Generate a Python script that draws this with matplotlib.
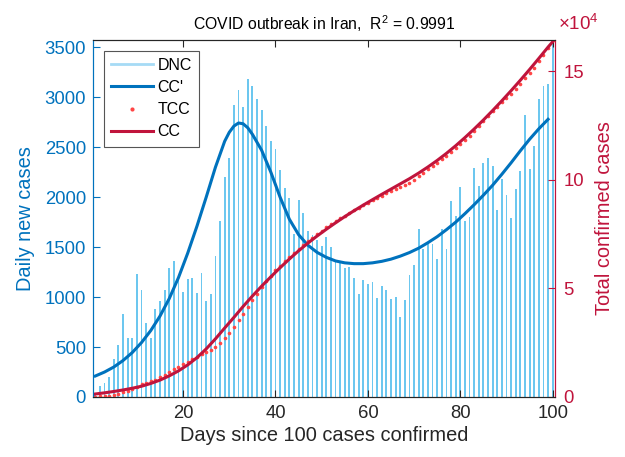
import numpy as np
import matplotlib
matplotlib.use('Agg')
import matplotlib.pyplot as plt
from matplotlib.lines import Line2D
from matplotlib.ticker import FuncFormatter

plt.rcParams['font.family'] = ['Liberation Sans', 'DejaVu Sans']
plt.rcParams['mathtext.fontset'] = 'custom'
plt.rcParams['mathtext.rm'] = 'Liberation Sans'

# daily new cases (DNC), day 1 = first day with >100 confirmed cases
days = np.arange(1, 101)
dnc = [44, 106, 143, 205, 385, 523, 835, 586, 591, 1234,
       1076, 743, 595, 881, 958, 1075, 1289, 1365, 1209, 1053,
       1178, 1192, 1046, 1237, 966, 1028, 1411, 1762, 2206, 2389,
       2926, 3076, 2901, 3186, 3110, 2988, 2875, 2715, 2560, 2483,
       2274, 2089, 1997, 1634, 1972, 1837, 1657, 1617, 1574, 1512,
       1606, 1499, 1374, 1343, 1294, 1297, 1194, 1030, 1168, 1134,
       1153, 991, 1112, 1073, 983, 1006, 802, 976, 1223, 1323,
       1680, 1485, 1556, 1529, 1383, 1683, 1481, 1958, 1808, 2102,
       1757, 1806, 2294, 2111, 2346, 2392, 2311, 1869, 2180, 2023,
       1787, 2080, 2258, 2819, 2282, 2516, 2979, 3117, 3134, 3574]

# total confirmed cases (TCC)
tcc = [139, 245, 388, 593, 978, 1501, 2336, 2922, 3513, 4747,
       5823, 6566, 7161, 8042, 9000, 10075, 11364, 12729, 13938, 14991,
       16169, 17361, 18407, 19644, 20610, 21638, 23049, 24811, 27017, 29406,
       32332, 35408, 38309, 41495, 44605, 47593, 50468, 53183, 55743, 58226,
       60500, 62589, 64586, 66220, 68192, 70029, 71686, 73303, 74877, 76389,
       77995, 79494, 80868, 82211, 83505, 84802, 85996, 87026, 88194, 89328,
       90481, 91472, 92584, 93657, 94640, 95646, 96448, 97424, 98647, 99970,
       101650, 103135, 104691, 106220, 107603, 109286, 110767, 112725, 114533, 116635,
       118392, 120198, 122492, 124603, 126949, 129341, 131652, 133521, 135701, 137724,
       139511, 141591, 143849, 146668, 148950, 151466, 154445, 157562, 160696, 164270]

# fitted curve CC' (daily rate)
ccd_days = [1, 3, 5, 7, 9, 11, 13, 15, 17, 19, 21, 23, 25, 27, 29, 30, 31, 32,
            33, 34, 35, 37, 39, 41, 43, 45, 47, 49, 51, 53, 55, 57, 59, 61, 63,
            65, 67, 69, 71, 73, 75, 77, 79, 81, 83, 85, 87, 89, 91, 93, 95, 97, 99]
ccd_vals = [210, 250, 300, 365, 445, 545, 665, 810, 985, 1195, 1440, 1710,
            2000, 2300, 2560, 2650, 2712, 2743, 2735, 2695, 2630, 2470, 2250,
            2000, 1780, 1625, 1520, 1448, 1398, 1362, 1343, 1335, 1335, 1343,
            1358, 1380, 1410, 1446, 1490, 1545, 1605, 1675, 1750, 1835, 1925,
            2020, 2120, 2230, 2345, 2465, 2580, 2685, 2780]

# fitted curve CC (cumulative)
cc_days = [1, 3, 5, 7, 9, 11, 13, 15, 17, 19, 21, 23, 25, 27, 29, 31, 33, 35,
           37, 39, 41, 43, 45, 47, 49, 51, 53, 55, 57, 59, 61, 63, 65, 67, 69,
           71, 73, 75, 77, 79, 81, 83, 85, 87, 89, 91, 93, 95, 97, 99, 100]
cc_vals = [1380, 1920, 2545, 3230, 4030, 4950, 6230, 7770, 9720, 12010,
           14775, 18105, 22125, 26745, 31740, 36630, 41670, 46450, 51000,
           55310, 59485, 63475, 67255, 70775, 74065, 77175, 80145, 83005,
           85700, 88300, 90800, 93250, 95650, 98050, 100450, 103050, 105850,
           108850, 112100, 115600, 119350, 123300, 127450, 131800, 136300,
           140950, 145750, 150700, 155800, 161000, 163450]

c_bar = '#6CC7EF'
c_blue = '#0072BD'
c_red = '#C0143C'
c_dot = '#FF4545'

fig = plt.figure(figsize=(6.25, 4.57), dpi=100)
ax = fig.add_axes([0.1488, 0.1313, 0.7392, 0.7812])
ax.bar(days, dnc, width=0.4, color=c_bar, linewidth=0)
ax.plot(ccd_days, ccd_vals, color=c_blue, lw=2.2)
ax.set_xlim(0.5, 100.5)
ax.set_ylim(0, max(dnc))
ax.set_yticks([0, 500, 1000, 1500, 2000, 2500, 3000, 3500])
ax.set_xticks([20, 40, 60, 80, 100])
ax.set_ylabel('Daily new cases', color=c_blue, fontsize=14.4, labelpad=7)
ax.set_xlabel('Days since 100 cases confirmed', color='#262626', fontsize=14.4, labelpad=3)
ax.tick_params(axis='y', colors=c_blue, direction='in', labelsize=13.3, length=5, pad=5)
ax.tick_params(axis='x', colors='#262626', direction='in', labelsize=13.3, length=5,
               top=True, pad=6)

ax2 = ax.twinx()
ax2.plot(days, tcc, 'o', color=c_dot, ms=2.6, mew=0)
ax2.plot(cc_days, cc_vals, color=c_red, lw=2.2)
ax2.set_ylim(0, max(tcc))
ax2.set_yticks([0, 50000, 100000, 150000])
ax2.yaxis.set_major_formatter(FuncFormatter(lambda v, p: '%d' % round(v / 1e4)))
ax2.set_ylabel('Total confirmed cases', color=c_red, fontsize=14.4, labelpad=8)
ax2.tick_params(axis='y', colors=c_red, direction='in', labelsize=13.3, length=5, pad=6)

for a in (ax, ax2):
    a.spines['left'].set_color(c_blue)
    a.spines['right'].set_color(c_red)
    a.spines['top'].set_color('#262626')
    a.spines['bottom'].set_color('#262626')

fig.text(0.893, 0.935, '×10$^{4}$', color=c_red, fontsize=13.5)
ax.set_title('COVID outbreak in Iran,  R$^{2}$ = 0.9991', fontsize=11.3, pad=7)

handles = [Line2D([], [], color='#A6DBF5', lw=2),
           Line2D([], [], color=c_blue, lw=2.2),
           Line2D([], [], color=c_dot, marker='o', ms=3, lw=0, mew=0),
           Line2D([], [], color=c_red, lw=2.2)]
leg = ax2.legend(handles, ['DNC', "CC'", 'TCC', 'CC'], loc='upper left',
                 bbox_to_anchor=(0.024, 0.97), borderaxespad=0, fontsize=11.5,
                 fancybox=False, framealpha=1, edgecolor='#555555',
                 handlelength=2.6, handletextpad=0.3, labelspacing=0.45,
                 borderpad=0.45)
leg.get_frame().set_linewidth(0.8)

fig.savefig('out.png', dpi=100)
